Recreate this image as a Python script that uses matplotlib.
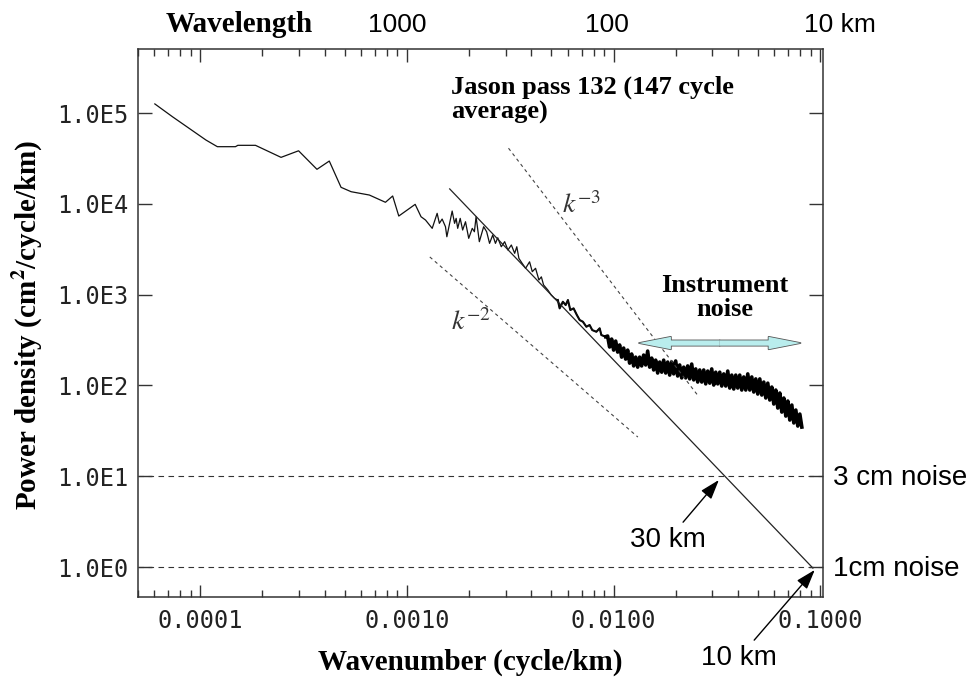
import matplotlib.pyplot as plt
from matplotlib.patches import FancyArrowPatch
import numpy as np

plt.rcParams['mathtext.fontset'] = 'stix'

# Jason pass 132 averaged spectrum
wavenumber = np.array([
    6.03e-5, 7.34e-5, 1.066e-4, 1.21e-4, 1.48e-4, 1.52e-4, 1.85e-4, 2.46e-4, 2.99e-4, 3.67e-4,
    4.21e-4, 4.80e-4, 5.37e-4, 6.58e-4, 7.87e-4, 8.53e-4, 9.13e-4, 1.096e-3, 1.17e-3, 1.23e-3,
    1.325e-3, 1.375e-3, 1.40e-3, 1.435e-3, 1.48e-3, 1.536e-3, 1.56e-3, 1.62e-3, 1.655e-3, 1.70e-3,
    1.73e-3, 1.76e-3, 1.81e-3, 1.86e-3, 1.92e-3, 1.99e-3, 2.07e-3, 2.12e-3, 2.16e-3, 2.24e-3,
    2.35e-3, 2.43e-3, 2.51e-3, 2.60e-3, 2.68e-3, 2.75e-3, 2.86e-3, 2.97e-3, 3.08e-3, 3.20e-3,
    3.32e-3, 3.40e-3, 3.48e-3, 3.61e-3, 3.75e-3, 3.92e-3, 4.04e-3, 4.19e-3, 4.35e-3, 4.47e-3,
    4.58e-3, 4.81e-3, 4.99e-3, 5.18e-3, 5.37e-3, 5.48e-3, 5.68e-3, 5.86e-3, 6.01e-3, 6.17e-3,
    6.40e-3, 6.64e-3, 6.85e-3, 7.10e-3, 7.38e-3, 7.65e-3, 7.88e-3, 8.25e-3, 8.56e-3, 8.72e-3,
    9.15e-3, 9.35e-3, 9.56e-3, 9.78e-3,
    0.01000, 0.01023, 0.01046, 0.01069, 0.01093, 0.01118, 0.01143, 0.01169, 0.01195, 0.01222,
    0.01250, 0.01278, 0.01307, 0.01336, 0.01366, 0.01397, 0.01429, 0.01461, 0.01494, 0.01528,
    0.01562, 0.01597, 0.01633, 0.01670, 0.01708, 0.01746, 0.01786, 0.01826, 0.01867, 0.01909,
    0.01952, 0.01996, 0.02041, 0.02087, 0.02134, 0.02183, 0.02232, 0.02282, 0.02334, 0.02386,
    0.02440, 0.02495, 0.02551, 0.02609, 0.02668, 0.02728, 0.02789, 0.02852, 0.02917, 0.02982,
    0.03050, 0.03118, 0.03189, 0.03261, 0.03334, 0.03409, 0.03486, 0.03565, 0.03645, 0.03728,
    0.03812, 0.03898, 0.03985, 0.04075, 0.04167, 0.04261, 0.04357, 0.04456, 0.04556, 0.04659,
    0.04764, 0.04871, 0.04981, 0.05094, 0.05208, 0.05326, 0.05446, 0.05569, 0.05694, 0.05823,
    0.05954, 0.06088, 0.06226, 0.06366, 0.06510, 0.06657, 0.06807, 0.06960, 0.07117, 0.07278,
    0.07442, 0.07610, 0.07781, 0.07957, 0.08136,
])
power = np.array([
    1.26e5, 9.1e4, 5.04e4, 4.26e4, 4.26e4, 4.41e4, 4.41e4, 3.25e4, 3.84e4, 2.40e4,
    2.96e4, 1.52e4, 1.36e4, 1.25e4, 1.04e4, 1.22e4, 7.34e3, 9.87e3, 7.21e3, 6.63e3,
    5.37e3, 6.92e3, 7.86e3, 6.10e3, 6.80e3, 5.60e3, 4.34e3, 6.63e3, 8.33e3, 6.10e3,
    6.92e3, 5.37e3, 6.92e3, 5.15e3, 6.35e3, 4.17e3, 5.37e3, 4.93e3, 7.21e3, 3.83e3,
    5.60e3, 4.93e3, 3.67e3, 4.53e3, 3.67e3, 4.23e3, 3.37e3, 3.83e3, 3.10e3, 3.52e3,
    2.85e3, 3.37e3, 2.51e3, 2.21e3, 1.95e3, 2.30e3, 1.79e3, 1.95e3, 1.45e3, 1.57e3,
    1.28e3, 1.12e3, 990, 910, 872, 706, 835, 768, 872, 677,
    706, 596, 525, 503, 443, 463, 407, 390, 426, 359,
    344, 350, 265, 324,
    245, 308, 233, 279, 205, 258, 195, 245, 176, 222,
    164, 205, 159, 205, 164, 216, 168, 239, 159, 200,
    148, 190, 137, 181, 140, 190, 137, 181, 130, 181,
    134, 186, 127, 168, 121, 159, 121, 164, 118, 172,
    115, 152, 109, 148, 109, 148, 104, 144, 106, 152,
    101, 140, 104, 140, 98.5, 134, 98.5, 144, 93.6, 130,
    91.3, 130, 93.6, 130, 89.0, 124, 89.0, 134, 89.0, 124,
    84.6, 118, 80.4, 118, 78.4, 109, 72.7, 106, 69.1, 96.0,
    62.4, 89.0, 56.4, 82.5, 50.9, 72.7, 46.0, 67.3, 41.6, 60.8,
    38.6, 53.6, 35.7, 48.4, 34.8,
])

# straight reference lines (end points)
fit_k = [1.61e-3, 0.092]
fit_p = [1.46e4, 0.975]
k3_k = [3.1e-3, 0.0255]
k3_p = [4.1e4, 78]
k2_k = [1.29e-3, 0.0131]
k2_p = [2.6e3, 27]

noise_levels = [10, 1]
noise_labels = ['3 cm noise', '1cm noise']

xtick_vals = [1e-4, 1e-3, 1e-2, 1e-1]
xtick_labels = ['0.0001', '0.0010', '0.0100', '0.1000']
ytick_vals = [1, 10, 100, 1e3, 1e4, 1e5]
ytick_labels = ['1.0E0', '1.0E1', '1.0E2', '1.0E3', '1.0E4', '1.0E5']
wavelengths = [1000, 100, 10]
wavelength_labels = ['1000', '100', '10 km']
wavelength_shift = [-7, -5, 14]

instrument_k = [0.01326, 0.0802]
instrument_p = 293


def main():
    fig = plt.figure(figsize=(9.72, 6.79), dpi=100)
    ax = fig.add_axes([0.142, 0.1208, 0.7047, 0.807])
    ax.set_xscale('log')
    ax.set_yscale('log')
    ax.set_xlim(5e-5, 0.103)
    ax.set_ylim(0.468, 5.07e5)

    ax.plot(wavenumber, power, color='#111111', lw=0.9)
    # the high-wavenumber part is a dense, noisy band
    dense = wavenumber >= 5.3e-3
    ax.plot(wavenumber[dense], power[dense], color='#0a0a0a', lw=1.5)
    dense = wavenumber >= 9.0e-3
    ax.plot(wavenumber[dense], power[dense], color='#000000', lw=2.6)

    ax.plot(fit_k, fit_p, color='#222222', lw=0.9)
    ax.plot(k3_k, k3_p, color='#444444', lw=0.8, ls=(0, (3, 3)))
    ax.plot(k2_k, k2_p, color='#444444', lw=0.8, ls=(0, (3, 3)))
    for lev in noise_levels:
        ax.axhline(lev, color='#333333', lw=0.8, ls=(0, (5, 4)))

    mono = 'DejaVu Sans Mono'
    ax.set_xticks(xtick_vals, xtick_labels, fontfamily=mono, fontsize=17, color='#222222')
    ax.set_yticks(ytick_vals, ytick_labels, fontfamily=mono, fontsize=17, color='#222222')
    ax.yaxis.set_minor_locator(plt.NullLocator())
    ax.tick_params(which='both', direction='in', top=True, right=True, color='#333333', width=1)
    ax.tick_params(axis='y', which='major', length=10, pad=7)
    ax.tick_params(axis='x', which='major', length=9, pad=9)
    ax.tick_params(axis='x', which='minor', length=5)
    for sp in ax.spines.values():
        sp.set_linewidth(1.1)
        sp.set_color('#333333')

    # wavelength labels along the top
    for lam, lab, dx in zip(wavelengths, wavelength_labels, wavelength_shift):
        ax.annotate(lab, xy=(1.0 / lam, 1), xycoords=('data', 'axes fraction'),
                    xytext=(dx, 17), textcoords='offset points', ha='center', va='center',
                    fontfamily='Liberation Sans', fontsize=19)

    serif = 'Liberation Serif'
    fig.text(239 / 972, 1 - 25 / 679, 'Wavelength', ha='center', va='center',
             fontfamily=serif, fontweight='bold', fontsize=21)
    fig.text(470 / 972, 1 - 662 / 679, 'Wavenumber (cycle/km)', ha='center', va='center',
             fontfamily=serif, fontweight='bold', fontsize=21)
    fig.text(28 / 972, 1 - 325 / 679, 'Power density (cm$^{\\mathbf{2}}$/cycle/km)',
             ha='center', va='center', rotation=90,
             fontfamily=serif, fontweight='bold', fontsize=21)

    ax.text(1.642e-3, 1.39e5, 'Jason pass 132 (147 cycle\naverage)', ha='left', va='center',
            fontfamily=serif, fontweight='bold', fontsize=19, linespacing=1.1)
    ax.text(0.0345, 929, 'Instrument\nnoise', ha='center', va='center', multialignment='center',
            fontfamily=serif, fontweight='bold', fontsize=19, linespacing=1.1)
    ax.text(5.6e-3, 9.7e3, '$k^{-3}$', ha='left', va='center', fontsize=20, color='#333333')
    ax.text(1.642e-3, 499, '$k^{-2}$', ha='left', va='center', fontsize=20, color='#333333')

    for lev, lab in zip(noise_levels, noise_labels):
        ax.text(0.115, lev * 0.95, lab, ha='left', va='center',
                fontfamily='Liberation Sans', fontsize=20)

    arr = dict(arrowstyle='-|>,head_length=0.6,head_width=0.2', color='black', lw=1,
               shrinkA=2, shrinkB=0)
    ax.annotate('30 km', xy=(0.0323, 9.1), xytext=(0.0183, 1.98), ha='center', va='center',
                fontfamily='Liberation Sans', fontsize=20, arrowprops=arr)
    ax.annotate('10 km', xy=(0.094, 0.93), xytext=(0.0403, 0.0995), ha='center', va='center',
                fontfamily='Liberation Sans', fontsize=20, arrowprops=arr,
                annotation_clip=False)

    # double-headed instrument-noise arrow, outline first then fill on top
    kmid = np.sqrt(instrument_k[0] * instrument_k[1])
    for ec, lw, z in [('#555555', 1.2, 4), ('none', 0, 5)]:
        for kend in instrument_k:
            a = FancyArrowPatch((kmid, instrument_p), (kend, instrument_p),
                                arrowstyle='simple,head_length=2.3,head_width=0.9,tail_width=0.38',
                                mutation_scale=10, fc='#b9eded', ec=ec, lw=lw, zorder=z,
                                shrinkA=0, shrinkB=0)
            ax.add_patch(a)

    fig.savefig('out.png', dpi=100)


if __name__ == '__main__':
    main()
